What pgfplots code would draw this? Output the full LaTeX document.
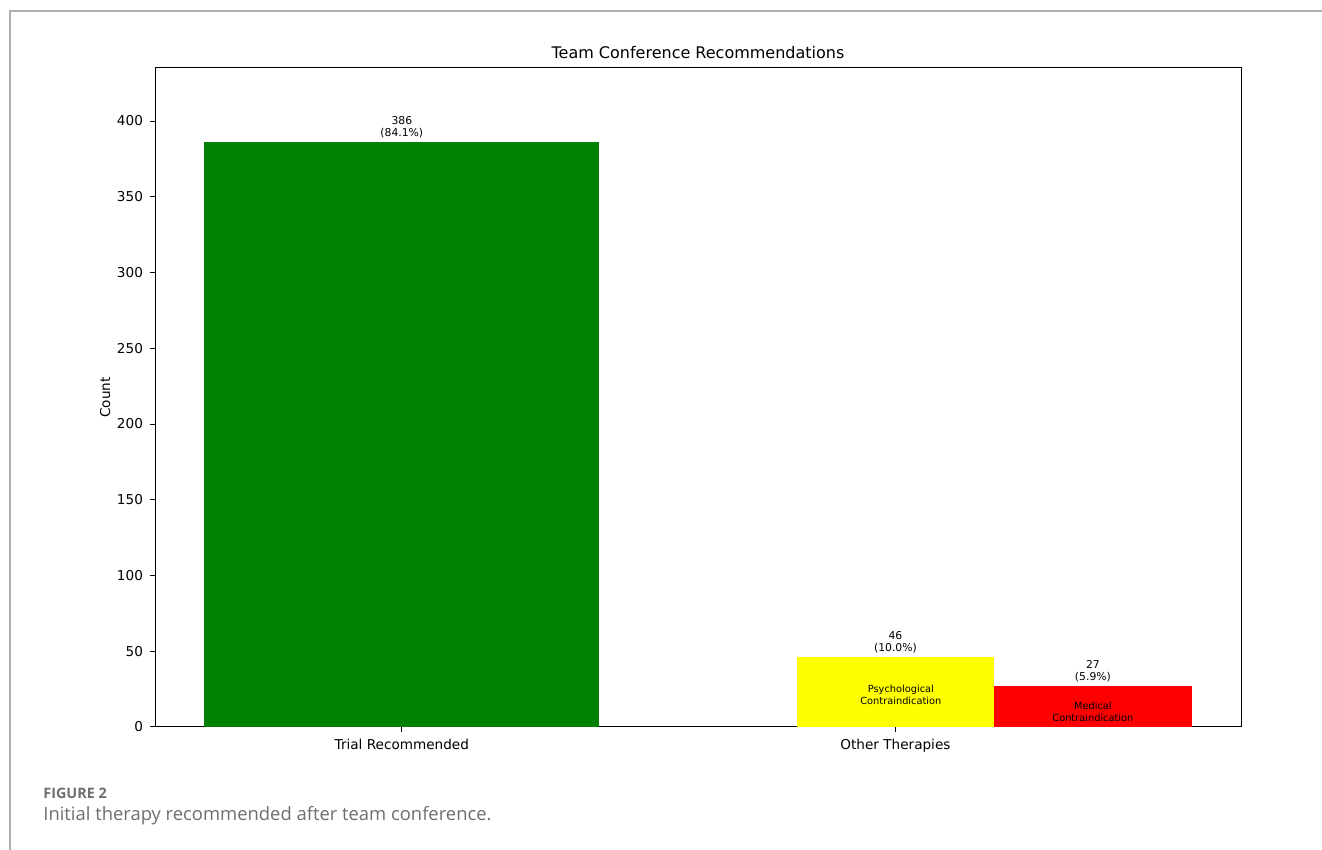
\documentclass[border=0pt]{standalone}
\usepackage{fontspec}
\setmainfont{DejaVu Sans}
\newfontfamily\capfont{Open Sans}
\usepackage{pgfplots}
\pgfplotsset{compat=1.18}
\definecolor{framegray}{RGB}{175,175,175}
\definecolor{capgray}{RGB}{110,110,110}
\definecolor{mplgreen}{RGB}{0,128,0}
\definecolor{mplyellow}{RGB}{255,255,0}
\definecolor{mplred}{RGB}{255,0,0}
\begin{document}
\begin{tikzpicture}
\path[use as bounding box] (0pt,0pt) rectangle (661pt,425pt);
\draw[line width=0.75pt, framegray] (5pt,0pt) -- (5pt,419.5pt) -- (661pt,419.5pt);
\begin{axis}[
  at={(77.5pt,61.5pt)}, anchor=south west,
  scale only axis, width=543pt, height=329.5pt,
  xmin=-0.5, xmax=1.7, ymin=0, ymax=435,
  axis line style={line width=0.5pt, black},
  xtick={0,1}, xticklabels={Trial Recommended, Other Therapies},
  ytick={0,50,100,150,200,250,300,350,400},
  tick align=outside, tick pos=left,
  major tick length=2.5pt,
  tick style={line width=0.5pt, black},
  ticklabel style={font=\fontsize{6.8}{8}\selectfont},
  /pgf/number format/assume math mode=true,
  ylabel={Count},
  ylabel shift=-3.5pt,
  ylabel style={font=\fontsize{6.8}{8}\selectfont},
  title={Team Conference Recommendations},
  title style={font=\fontsize{8}{9.6}\selectfont, anchor=base, yshift=-1.5pt},
  clip=false,
]
\addplot[ybar, bar width=0.8, bar shift=0pt, fill=mplgreen, draw=none] coordinates {(0,386)};
\addplot[ybar, bar width=0.4, bar shift=0pt, fill=mplyellow, draw=none] coordinates {(1,46)};
\addplot[ybar, bar width=0.4, bar shift=0pt, fill=mplred, draw=none] coordinates {(1.4,27)};
\node[anchor=south, align=center, inner sep=0pt, yshift=2pt, font=\fontsize{5.4}{6}\selectfont] at (axis cs:0,386) {386\\(84.1\%)};
\node[anchor=south, align=center, inner sep=0pt, yshift=2pt, font=\fontsize{5.4}{6}\selectfont] at (axis cs:1,46) {46\\(10.0\%)};
\node[anchor=south, align=center, inner sep=0pt, yshift=2pt, font=\fontsize{5.4}{6}\selectfont] at (axis cs:1.4,27) {27\\(5.9\%)};
\node[align=center, inner sep=0pt, font=\fontsize{4.9}{6}\selectfont] at (axis cs:1.011,21.3) {Psychological\\Contraindication};
\node[align=center, inner sep=0pt, font=\fontsize{4.9}{6}\selectfont] at (axis cs:1.4,9.8) {Medical\\Contraindication};
\end{axis}
\node[anchor=west, inner sep=0pt, text=capgray, font=\capfont\fontsize{7.2}{8}\selectfont\bfseries] at (21.5pt,28.5pt) {FIGURE 2};
\node[anchor=west, inner sep=0pt, text=capgray, font=\capfont\fontsize{9.2}{11}\selectfont] at (21.5pt,17pt) {Initial therapy recommended after team conference.};
\end{tikzpicture}
\end{document}
